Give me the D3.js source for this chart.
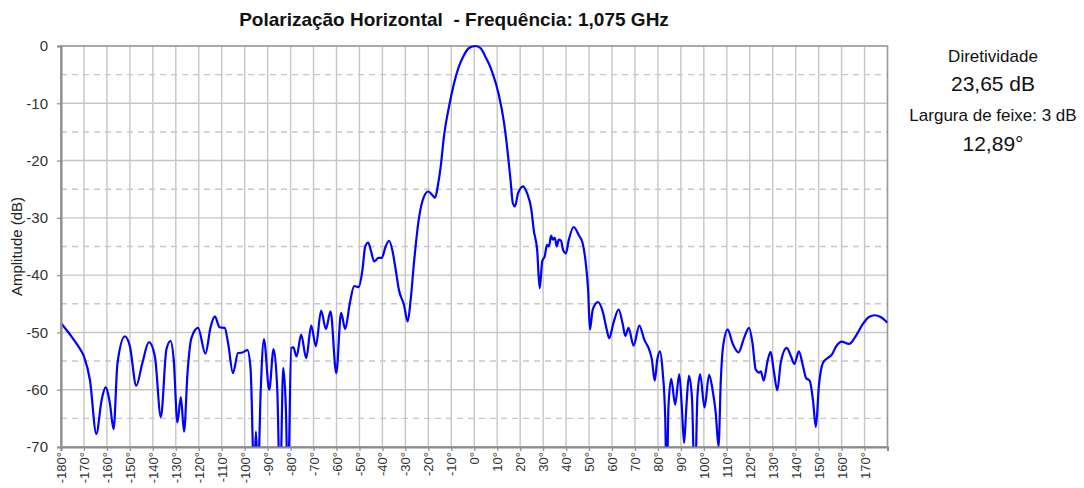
<!DOCTYPE html>
<html>
<head>
<meta charset="utf-8">
<script src="https://cdn.jsdelivr.net/npm/d3@7"></script>
<style>
  body { margin: 0; background: #fff; }
  svg { display: block; font-family: "Liberation Sans", Arial, sans-serif; }
</style>
</head>
<body>
<svg width="1084" height="488"></svg>
<script>
const angulos = [
  -180, -176, -172.5, -170, -167.4, -164.6, -162.3, -160.6, -158.7, -157.1,
  -155.4, -152.2, -150, -147.2, -144.6, -141.7, -139.1, -136.5, -134.1, -132.3,
  -130.9, -129.3, -127.8, -126.4, -124.9, -123.2, -120.3, -117.1, -114.8, -113,
  -110.9, -108.7, -107.2, -105.1, -102.9, -101, -98.8, -97.4, -95.9, -95.1,
  -94.2, -93, -91.6, -89.3, -87.4, -85.8, -84.6, -83.2, -82, -81.2,
  -79.7, -78.8, -77.4, -75.4, -73.2, -71, -69, -66.7, -64.6, -62.6,
  -60.1, -58, -56.2, -54.2, -52.3, -50.4, -48.7, -47.5, -46.2, -45.1,
  -43.6, -41.7, -40.3, -38.6, -37.1, -35.7, -34.2, -32.8, -30.6, -29,
  -27.7, -26.2, -24.1, -21.9, -20, -18.3, -17.1, -15.7, -14.6, -13.2,
  -11, -8.8, -6.7, -4.5, -2.3, 0.6, 2.8, 4.9, 7.8, 10.7,
  12.9, 14.3, 15.8, 16.8, 17.7, 19.1, 21.3, 23, 24.9, 25.9,
  27.4, 28.5, 29.6, 30.7, 31.7, 32.5, 33.5, 34.2, 35.1, 35.9,
  36.8, 37.8, 38.7, 39.9, 41.2, 43.3, 45.5, 47.2, 48.4, 49.6,
  50.4, 51.6, 53.9, 56, 57.7, 58.8, 60.6, 62.9, 64.6, 65.8,
  67.2, 69.4, 71.9, 74.1, 76.2, 77.4, 78.6, 79.7, 80.9, 82,
  83.2, 83.8, 84.6, 85.8, 87.5, 89.3, 90.4, 91.4, 92.4, 93.5,
  94.8, 96.1, 97.2, 98.4, 100.3, 102.3, 103.8, 105.2, 106.4, 107.4,
  108.4, 110.4, 112.5, 115.1, 117.5, 119.7, 121.2, 122.6, 124.1, 124.8,
  126.1, 127.7, 129.1, 130.4, 132, 133.5, 136.1, 138, 139.4, 141.4,
  143.2, 144.6, 146.1, 147.5, 148.8, 150.1, 151.9, 153.8, 155.7, 157.7,
  160, 163.2, 166.1, 169, 171.9, 174.5, 177, 180
];
const amplitudes = [
  -48.4, -50.4, -52.4, -54.2, -58.3, -67.7, -61.8, -59.6, -62.4, -66.9,
  -55.4, -50.7, -52.4, -59.3, -55.4, -51.7, -54.2, -64.8, -53, -51.5,
  -54.8, -65.7, -61.3, -67.3, -57.1, -51, -49.2, -53.7, -49, -47.2,
  -49.1, -49.2, -51.9, -57.1, -53.6, -53.5, -53.1, -56.5, -75, -67.3,
  -75, -60, -51.2, -60, -52.9, -60, -78, -56.2, -64, -78,
  -52.7, -52.6, -54.2, -50.4, -54.5, -48.8, -52.4, -46.2, -49.4, -46.3,
  -57.1, -46.6, -49.4, -44.9, -41.9, -42.1, -39.1, -35, -34.3, -35.6,
  -37.6, -37, -37, -35, -34, -35.6, -39.1, -42.6, -45.2, -48.1,
  -44.3, -37.6, -30.1, -26.3, -25.4, -26, -26.5, -24, -21, -15.8,
  -10.6, -6.5, -3.6, -1.6, -0.35, 0, -0.4, -1.9, -4.5, -8.5,
  -13.2, -17.6, -23.4, -27.4, -28, -25.7, -24.5, -25.7, -28.6, -32.1,
  -35.6, -42.3, -37.6, -36.7, -34.7, -35, -33.1, -33.8, -33.5, -35,
  -33.8, -34, -35.6, -36.2, -33.8, -31.6, -33, -34.4, -37.3, -42.6,
  -49.5, -46, -44.7, -46.4, -49.5, -51, -48.4, -46, -48.4, -50.6,
  -49.2, -52.3, -48.8, -51.3, -53, -54.8, -58.4, -54.8, -53.3, -56.5,
  -65.2, -78, -62.9, -58.1, -62.6, -57.3, -62.9, -69.3, -62.9, -57.6,
  -61.2, -78, -61.2, -57.3, -63.1, -57.4, -60, -64.1, -69.9, -58.3,
  -52.4, -49.5, -51.9, -53.5, -51, -49.2, -51.9, -56.5, -57, -56.8,
  -58.4, -55.1, -53.4, -56.5, -60.1, -55.3, -52.7, -54.2, -55.5, -53.3,
  -55.9, -58, -58.4, -61.7, -66.5, -59.4, -55.3, -54.5, -53.9, -52.4,
  -51.6, -52, -50.7, -48.7, -47.3, -47, -47.3, -48.3
];
const ticksX = d3.range(-180, 180, 10);
const ticksY = d3.range(0, -71, -10);
const ticksYTracejado = d3.range(-5, -70, -10);
const titulo = "Polarização Horizontal  - Frequência: 1,075 GHz";
const infoTextos = ["Diretividade", "23,65 dB", "Largura de feixe: 3 dB", "12,89°"];

const svg = d3.select("svg"),
  width = +svg.attr("width"),
  height = +svg.attr("height");

const margin = { top: 46, right: 196, bottom: 41, left: 61 };
const x = d3.scaleLinear().domain([-180, 180]).range([margin.left, width - margin.right - 0.5]);
const y = d3.scaleLinear().domain([-70, 0]).range([height - margin.bottom, margin.top]);

const pts = angulos.map((a, i) => ({ a, v: amplitudes[i] }));

// grade
const grade = svg.append("g");
grade.selectAll("line.v").data(ticksX.concat([180])).join("line")
  .attr("x1", d => x(d)).attr("x2", d => x(d))
  .attr("y1", y(0)).attr("y2", y(-70))
  .attr("stroke", "#c6c6c6").attr("stroke-width", 1.4);
grade.selectAll("line.h").data(ticksY).join("line")
  .attr("x1", x(-180)).attr("x2", x(180))
  .attr("y1", d => y(d)).attr("y2", d => y(d))
  .attr("stroke", "#c6c6c6").attr("stroke-width", 1.4);
grade.selectAll("line.d").data(ticksYTracejado).join("line")
  .attr("x1", x(-180)).attr("x2", x(180))
  .attr("y1", d => y(d)).attr("y2", d => y(d))
  .attr("stroke", "#c8c8c8").attr("stroke-width", 1.4)
  .attr("stroke-dasharray", "6,5");

// moldura
svg.append("rect")
  .attr("x", x(-180)).attr("y", y(0))
  .attr("width", x(180) - x(-180)).attr("height", y(-70) - y(0))
  .attr("fill", "none").attr("stroke", "#9a9a9a").attr("stroke-width", 1.5);

// curva
svg.append("clipPath").attr("id", "clip")
  .append("rect")
  .attr("x", x(-180)).attr("y", y(0) - 2)
  .attr("width", x(180) - x(-180)).attr("height", y(-70) - y(0) + 2);

const linha = d3.line()
  .x(d => x(d.a))
  .y(d => y(d.v))
  .curve(d3.curveMonotoneX);

svg.append("path")
  .datum(pts)
  .attr("clip-path", "url(#clip)")
  .attr("d", linha)
  .attr("fill", "none")
  .attr("stroke", "#0000ff")
  .attr("stroke-width", 2.2)
  .attr("stroke-linejoin", "round");

// eixos
const eixoY = svg.append("g")
  .attr("transform", `translate(${x(-180)},0)`)
  .call(d3.axisLeft(y).tickValues(ticksY).tickSize(4).tickPadding(9).tickFormat(d => d));
const eixoX = svg.append("g")
  .attr("transform", `translate(0,${y(-70)})`)
  .call(d3.axisBottom(x).tickValues(ticksX).tickSize(4).tickFormat(d => d + "°"));

[eixoY, eixoX].forEach(g => {
  g.select(".domain").attr("stroke", "#8c8c8c").attr("stroke-width", 2);
  g.selectAll(".tick line").attr("stroke", "#8c8c8c").attr("stroke-width", 1.2);
  g.selectAll("text").attr("fill", "#333").style("font-family", "Liberation Sans, Arial, sans-serif");
});
eixoY.selectAll("text").style("font-size", "15px");
eixoX.selectAll("text")
  .style("font-size", "13px")
  .attr("transform", "rotate(-90)")
  .attr("text-anchor", "end")
  .attr("x", -5)
  .attr("y", 0)
  .attr("dy", "0.35em");

// títulos
svg.append("text")
  .attr("x", 454).attr("y", 26)
  .attr("text-anchor", "middle")
  .style("font-size", "19px").style("font-weight", "bold")
  .style("white-space", "pre")
  .attr("fill", "#111")
  .text(titulo);

svg.append("text")
  .attr("transform", "rotate(-90)")
  .attr("x", -y(-35)).attr("y", 22)
  .attr("text-anchor", "middle")
  .style("font-size", "15px")
  .attr("fill", "#222")
  .text("Amplitude (dB)");

// painel de informações
const info = [
  { y: 62, size: 17 },
  { y: 91, size: 21 },
  { y: 121, size: 17 },
  { y: 151, size: 21 }
];
svg.selectAll("text.info").data(infoTextos).join("text")
  .attr("class", "info")
  .attr("x", 993)
  .attr("y", (d, i) => info[i].y)
  .attr("text-anchor", "middle")
  .style("font-size", (d, i) => info[i].size + "px")
  .attr("fill", "#111")
  .text(d => d);
</script>
</body>
</html>
